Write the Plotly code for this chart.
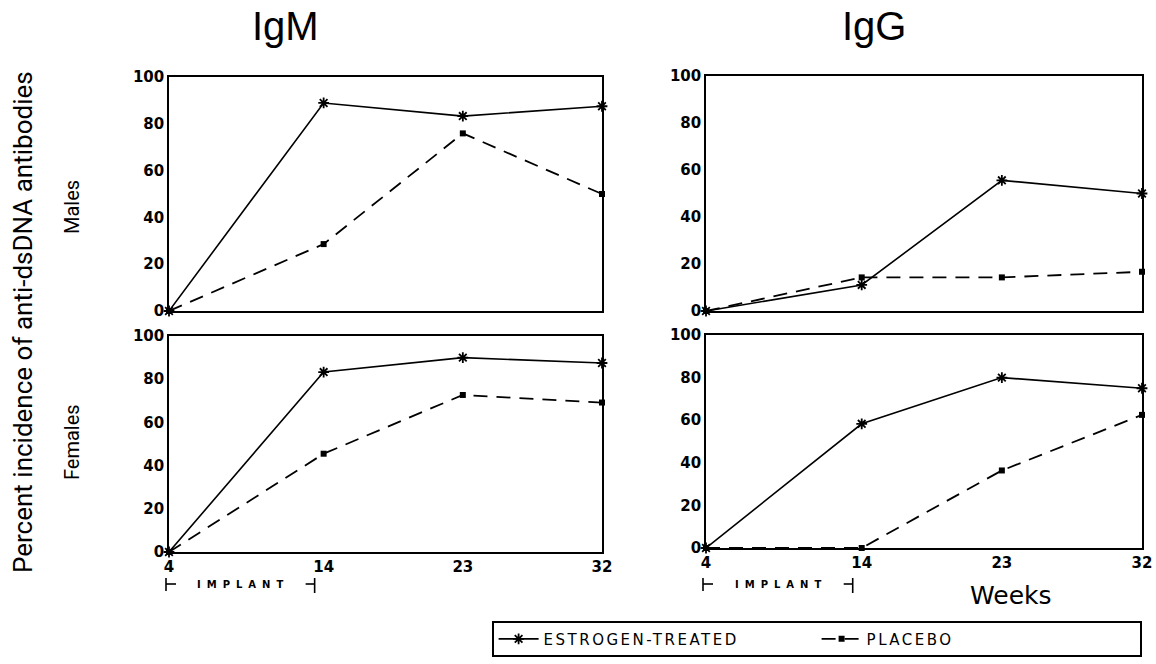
import plotly.graph_objects as go

# ---------------- data ----------------
weeks = [4, 14, 23, 32]
week_ticks = [4, 14, 23, 32]
y_ticks = [0, 20, 40, 60, 80, 100]

igm_male_estrogen = [0, 88.9, 83.3, 87.5]
igm_male_placebo = [0, 28.6, 75.9, 50.0]
igg_male_estrogen = [0, 11.1, 55.6, 50.0]
igg_male_placebo = [0, 14.3, 14.3, 16.7]
igm_female_estrogen = [0, 83.3, 90.0, 87.5]
igm_female_placebo = [0, 45.5, 72.7, 69.2]
igg_female_estrogen = [0, 58.3, 80.0, 75.0]
igg_female_placebo = [0, 0, 36.4, 62.5]

implant_start = 4
implant_end = 14

series_names = ["ESTROGEN-TREATED", "PLACEBO"]
column_titles = ["IgM", "IgG"]
row_titles = ["Males", "Females"]
y_title = "Percent incidence of anti-dsDNA antibodies"
x_title = "Weeks"
implant_label = "IMPLANT"

# ---------------- layout constants ----------------
W, H = 1156, 664
def px_x(p):
    return p / W
def px_y(p):
    return 1 - p / H

panels = {
    "TL": ((169, 602), (77, 311)),
    "TR": ((706, 1142), (76, 311)),
    "BL": ((169, 602), (336, 552)),
    "BR": ((706, 1142), (335, 548)),
}
axis_ids = {"TL": ("x", "y"), "TR": ("x2", "y2"), "BL": ("x3", "y3"), "BR": ("x4", "y4")}

panel_data = {
    "TL": (igm_male_estrogen, igm_male_placebo),
    "TR": (igg_male_estrogen, igg_male_placebo),
    "BL": (igm_female_estrogen, igm_female_placebo),
    "BR": (igg_female_estrogen, igg_female_placebo),
}

def spaced(text, px):
    return '<span style="letter-spacing:%spx">%s</span>' % (px, text)

fig = go.Figure()

first = True
for key in ["TL", "TR", "BL", "BR"]:
    est, plc = panel_data[key]
    xa, ya = axis_ids[key]
    fig.add_trace(go.Scatter(
        x=weeks, y=est, xaxis=xa, yaxis=ya, mode="lines+markers",
        name=spaced(series_names[0], 2.5), legendgroup="e", showlegend=first, legendrank=1,
        line=dict(color="black", width=1.6),
        marker=dict(symbol="asterisk-open", size=9, color="black",
                    line=dict(color="black", width=1.8)),
        cliponaxis=False,
    ))
    fig.add_trace(go.Scatter(
        x=weeks, y=plc, xaxis=xa, yaxis=ya, mode="lines+markers",
        name=spaced(series_names[1], 2.5), legendgroup="p", showlegend=first, legendrank=2,
        line=dict(color="black", width=1.8, dash="14px,9px"),
        marker=dict(symbol="square", size=6, color="black"),
        cliponaxis=False,
    ))
    first = False

tick_font = dict(family="DejaVu Sans", size=15, color="black", weight="bold")

layout_axes = {}
for key, ((x0, x1), (y0, y1)) in panels.items():
    xa, ya = axis_ids[key]
    xname = "xaxis" if xa == "x" else "xaxis" + xa[1:]
    yname = "yaxis" if ya == "y" else "yaxis" + ya[1:]
    bottom = key in ("BL", "BR")
    layout_axes[xname] = dict(
        domain=[px_x(x0), px_x(x1)], range=[weeks[0], weeks[-1]], anchor=ya,
        tickvals=week_ticks, showticklabels=bottom, ticks="", automargin=False,
        showgrid=False, zeroline=False, showline=True, mirror=True,
        linecolor="black", linewidth=1.6, tickfont=tick_font, fixedrange=True,
    )
    layout_axes[yname] = dict(
        domain=[px_y(y1), px_y(y0)], range=[0, 100], anchor=xa,
        tickvals=y_ticks, ticks="", showgrid=False, zeroline=False, automargin=False,
        showline=True, mirror=True, linecolor="black", linewidth=1.6,
        tickfont=tick_font, fixedrange=True,
    )

fig.update_layout(**layout_axes)

annotations = []
for title, cx in zip(column_titles, [285, 874]):
    annotations.append(dict(text=title, x=px_x(cx), y=px_y(26), xref="paper", yref="paper",
                            showarrow=False, xanchor="center", yanchor="middle",
                            font=dict(family="Liberation Sans, Arial, sans-serif", size=40, color="black")))
annotations.append(dict(text=y_title, x=px_x(23), y=px_y(322), xref="paper", yref="paper",
                        showarrow=False, textangle=-90, xanchor="center", yanchor="middle",
                        font=dict(family="Roboto, Liberation Sans, sans-serif", size=26, color="black")))
for title, cy in zip(row_titles, [207, 442]):
    annotations.append(dict(text=title, x=px_x(72), y=px_y(cy), xref="paper", yref="paper",
                            showarrow=False, textangle=-90, xanchor="center", yanchor="middle",
                            font=dict(family="Roboto, Liberation Sans, sans-serif", size=20, color="black")))
annotations.append(dict(text=x_title, x=px_x(1011), y=px_y(595), xref="paper", yref="paper",
                        showarrow=False, xanchor="center", yanchor="middle",
                        font=dict(family="DejaVu Sans", size=25, color="black")))

shapes = []
for key in ["BL", "BR"]:
    (dx0, dx1), _ = panels[key]
    def week_px(w):
        return dx0 + (w - weeks[0]) / (weeks[-1] - weeks[0]) * (dx1 - dx0)
    ls = week_px(implant_start) - 3
    rs = week_px(implant_end) - 9
    annotations.append(dict(text=spaced(implant_label, 6),
                            x=px_x((ls + rs) / 2 + 3), y=px_y(584), xref="paper", yref="paper",
                            showarrow=False, xanchor="center", yanchor="middle",
                            font=dict(family="DejaVu Sans", size=10, color="black", weight="bold")))
    lw = dict(color="black", width=1.6)
    shapes.append(dict(type="line", xref="paper", yref="paper",
                       x0=px_x(ls), x1=px_x(ls), y0=px_y(578), y1=px_y(591), line=lw))
    shapes.append(dict(type="line", xref="paper", yref="paper",
                       x0=px_x(ls), x1=px_x(ls + 10), y0=px_y(584), y1=px_y(584), line=lw))
    shapes.append(dict(type="line", xref="paper", yref="paper",
                       x0=px_x(rs), x1=px_x(rs), y0=px_y(578), y1=px_y(593), line=lw))
    shapes.append(dict(type="line", xref="paper", yref="paper",
                       x0=px_x(rs - 9), x1=px_x(rs), y0=px_y(584), y1=px_y(584), line=lw))

fig.update_layout(
    width=W, height=H,
    margin=dict(l=0, r=0, t=0, b=0, autoexpand=False),
    paper_bgcolor="white", plot_bgcolor="white",
    annotations=annotations, shapes=shapes,
    showlegend=True,
    legend=dict(orientation="h", x=px_x(492), y=px_y(621), xanchor="left", yanchor="top",
                bordercolor="black", borderwidth=1.6, bgcolor="white",
                font=dict(family="DejaVu Sans", size=15, color="black"),
                itemwidth=40, entrywidth=268, entrywidthmode="pixels",
                traceorder="normal"),
)

fig.write_html("out.html")
